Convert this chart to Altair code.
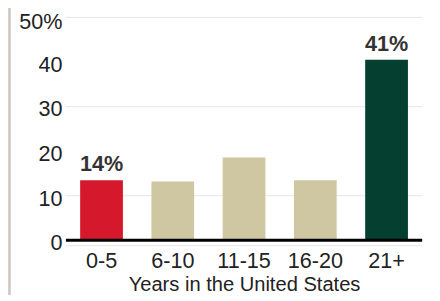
import altair as alt
import pandas as pd

categories = ["0-5", "6-10", "11-15", "16-20", "21+"]
values = [13.5, 13.2, 18.6, 13.5, 40.5]
bar_labels = ["14%", "", "", "", "41%"]
colors = ["#D6182C", "#CFC7A1", "#CFC7A1", "#CFC7A1", "#043F2F"]
grid_values = [10, 30, 50]
y_ticks = [0, 10, 20, 30, 40, 50]

df = pd.DataFrame({"cat": categories, "val": values, "lab": bar_labels, "col": colors})
grid_df = pd.DataFrame({"g": grid_values})

FONT = "Liberation Sans"
FS = 22

x_enc = alt.X(
    "cat:N", sort=categories,
    scale=alt.Scale(paddingInner=0.4, paddingOuter=0.2),
    axis=alt.Axis(
        title="Years in the United States", labelAngle=0, labelFontSize=FS,
        labelFont=FONT, labelColor="#222222", ticks=False, domainColor="#e3e3e3",
        domainWidth=1, offset=5, labelPadding=6, titleFont=FONT, titleFontSize=20.5,
        titleFontWeight="normal", titleColor="#222222", titlePadding=3,
    ),
)
y_scale = alt.Scale(domain=[0, 50], nice=False)

bars = alt.Chart(df).mark_bar().encode(
    x=x_enc,
    y=alt.Y("val:Q", scale=y_scale, axis=alt.Axis(
        values=y_ticks, title=None, grid=False, domain=False, ticks=False,
        labelFontSize=FS, labelFont=FONT, labelColor="#222222", labelPadding=4,
        labelOffset=alt.condition("datum.value == 50", alt.value(4.5), alt.value(2.5)),
        labelExpr="datum.value == 50 ? '50%' : datum.label",
    )),
    color=alt.Color("col:N", scale=None),
)

text = alt.Chart(df).mark_text(
    baseline="bottom", dy=-4, font=FONT, fontSize=22, fontWeight="bold", color="#333333"
).encode(x=alt.X("cat:N", sort=categories), y=alt.Y("val:Q", scale=y_scale), text="lab:N")

grid = alt.Chart(grid_df).mark_rule(color="#e6e6e6", strokeWidth=1).encode(
    y=alt.Y("g:Q", scale=y_scale)
)

base = alt.Chart(pd.DataFrame({"z": [0]})).mark_rule(color="#000000", strokeWidth=3).encode(
    y=alt.Y("z:Q", scale=y_scale)
)

border = alt.Chart(pd.DataFrame({"z": [0]})).mark_rule(color="#cdc4bc", strokeWidth=2.5).encode(
    x=alt.value(-57.5), y=alt.value(-10), y2=alt.value(300)
)

chart = alt.layer(grid, bars, base, text, border).properties(
    width=363, height=227,
    autosize=alt.AutoSizeParams(type="none"),
    padding={"left": 59, "top": 7, "right": 10, "bottom": 53},
).configure_view(stroke=None)

chart.save("out.html", embed_options={"renderer": "svg", "actions": False})
